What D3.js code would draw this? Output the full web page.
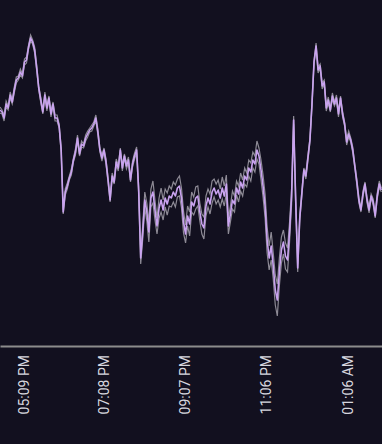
<!DOCTYPE html>
<html>
<head>
<meta charset="utf-8">
<script src="https://cdn.jsdelivr.net/npm/d3@7"></script>
<style>
  html, body { margin: 0; padding: 0; background: #12101f; }
  svg { display: block; }
</style>
</head>
<body>
<div id="chart"></div>
<script>
const width = 382;
const height = 444;
const axisY = 346;

// sampling: one reading every 3 minutes from 4:35 PM
const startTime = new Date(2024, 0, 1, 16, 35);
const endTime = new Date(2024, 0, 2, 1, 57);
const stepMinutes = 3;

const midValues = [
  236, 234, 228, 242, 238, 251, 244, 256, 266, 268, 274, 270, 284, 286, 299, 308, 304, 296, 278, 258,
  246, 234, 251, 238, 248, 232, 242, 228, 228, 220, 196, 134, 154, 160, 168, 174, 186, 194, 208, 192,
  202, 200, 208, 212, 216, 218, 222, 228, 214, 196, 188, 196, 184, 166, 146, 170, 164, 184, 178, 196,
  178, 190, 180, 186, 166, 182, 190, 196, 156, 88, 114, 146, 134, 114, 148, 154, 136, 120, 138, 146,
  136, 148, 142, 150, 148, 154, 150, 158, 160, 148, 124, 112, 130, 122, 144, 140, 148, 150, 134, 122,
  118, 140, 148, 142, 154, 158, 152, 156, 148, 158, 150, 162, 120, 132, 146, 142, 158, 152, 164, 158,
  170, 166, 178, 174, 186, 182, 196, 190, 176, 160, 140, 106, 88, 100, 80, 56, 46, 74, 96, 104,
  90, 86, 114, 150, 226, 146, 78, 128, 152, 176, 170, 188, 206, 242, 284, 300, 276, 280, 260, 264,
  238, 246, 236, 250, 242, 248, 232, 248, 232, 222, 204, 212, 206, 196, 180, 164, 146, 136, 152, 162,
  146, 136, 150, 144, 130, 150, 162, 156
];

const spreadValues = [
  3, 2, 3, 3, 2, 3, 2, 3, 3, 2, 3, 2, 3, 3, 2, 3, 2, 3, 3, 2,
  3, 2, 3, 3, 2, 3, 2, 3, 3, 2, 3, 2, 3, 3, 2, 3, 2, 3, 3, 2,
  3, 2, 3, 3, 2, 3, 2, 3, 3, 2, 3, 2, 3, 3, 2, 3, 2, 3, 3, 2,
  3, 2, 3, 3, 2, 3, 3, 3, 4, 6, 7, 8, 9, 10, 9, 11, 10, 8, 10, 12,
  10, 9, 11, 10, 9, 10, 11, 9, 10, 10, 11, 9, 10, 12, 10, 9, 11, 10, 9, 10,
  11, 10, 9, 10, 11, 9, 10, 10, 9, 11, 10, 9, 8, 8, 9, 8, 7, 8, 9, 8,
  8, 7, 8, 9, 8, 8, 9, 8, 10, 11, 12, 13, 12, 14, 13, 15, 16, 14, 13, 12,
  13, 12, 10, 8, 4, 5, 4, 3, 3, 2, 3, 3, 2, 3, 2, 3, 3, 2, 3, 2,
  3, 3, 2, 3, 2, 3, 3, 2, 3, 2, 3, 3, 2, 3, 2, 3, 3, 2, 3, 2,
  3, 3, 2, 3, 2, 3, 3, 2
];

const tickTimes = [
  new Date(2024, 0, 1, 17, 9),
  new Date(2024, 0, 1, 19, 8),
  new Date(2024, 0, 1, 21, 7),
  new Date(2024, 0, 1, 23, 6),
  new Date(2024, 0, 2, 1, 6)
];

const data = midValues.map((v, i) => ({
  time: new Date(startTime.getTime() + i * stepMinutes * 60000),
  mid: v,
  upper: v + spreadValues[i],
  lower: v - spreadValues[i]
}));

const svg = d3.select('#chart')
              .append('svg')
              .attr('width', width)
              .attr('height', height);

svg.append('rect')
   .attr('width', width)
   .attr('height', height)
   .attr('fill', '#12101f');

const x = d3.scaleTime()
            .domain([startTime, endTime])
            .range([0, width]);

const y = d3.scaleLinear()
            .domain([0, 346])
            .range([axisY, 0]);

const lineOf = key => d3.line()
                        .x(d => x(d.time))
                        .y(d => y(d[key]));

svg.append('path')
   .datum(data)
   .attr('fill', 'none')
   .attr('stroke', '#8d8a95')
   .attr('stroke-width', 1.2)
   .attr('d', lineOf('lower'));

svg.append('path')
   .datum(data)
   .attr('fill', 'none')
   .attr('stroke', '#8d8a95')
   .attr('stroke-width', 1.2)
   .attr('d', lineOf('upper'));

svg.append('path')
   .datum(data)
   .attr('fill', 'none')
   .attr('stroke', '#c9a3ef')
   .attr('stroke-width', 1.6)
   .attr('stroke-linejoin', 'round')
   .attr('d', lineOf('mid'));

const xAxis = g => g
  .call(d3.axisBottom(x)
          .tickValues(tickTimes)
          .tickSize(0)
          .tickSizeOuter(0)
          .tickFormat(d3.timeFormat('%I:%M %p')))
  .call(g => g.select('.domain')
              .attr('stroke', '#8c8c8c')
              .attr('stroke-width', 2))
  .call(g => g.selectAll('.tick text')
              .attr('fill', '#d6d6de')
              .attr('font-family', 'Roboto, sans-serif')
              .attr('font-size', 14)
              .attr('text-anchor', 'end')
              .attr('transform', 'rotate(-90)')
              .attr('x', -9)
              .attr('y', 0)
              .attr('dy', '0.35em'));

svg.append('g')
   .attr('transform', `translate(0, ${axisY})`)
   .call(xAxis);
</script>
</body>
</html>
